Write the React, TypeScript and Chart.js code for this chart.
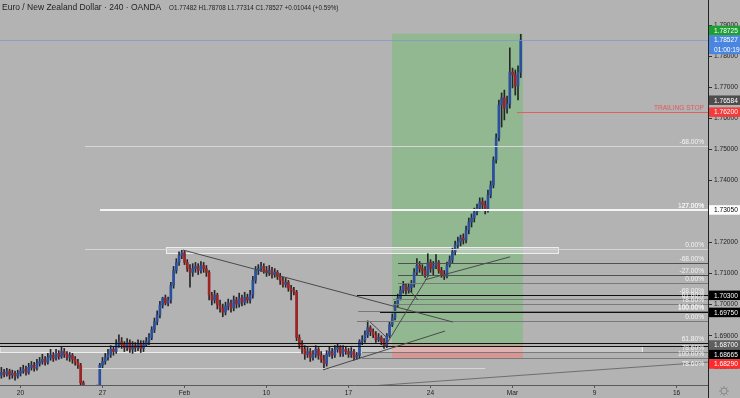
import React, { useEffect, useRef } from 'react';
import { Chart, registerables } from 'chart.js';

Chart.register(...registerables);

const FONT = "'Liberation Sans', Arial, sans-serif";
const BG = '#b3b3b3';

// ---- time slots (4h candles, 30 per week) ----
const FIRST_IDX = -7;
const LAST_IDX = 251;
const slotLabels = Array.from({ length: LAST_IDX - FIRST_IDX + 1 }, (_, k) => String(FIRST_IDX + k));

const tickIdx = [0, 30, 60, 90, 120, 150, 180, 210, 240];
const tickText = ['20', '27', 'Feb', '10', '17', '24', 'Mar', '9', '16'];

// ---- OHLC data (index -7 .. 183) ----
const firstOpen = 1.6773;
const closes = [
  1.6782, 1.6776, 1.6786, 1.6773, 1.6779, 1.677, 1.6779,
  1.6786, 1.6792, 1.6782, 1.6798, 1.6805, 1.6795, 1.6811, 1.6817, 1.6824, 1.6814,
  1.683, 1.6837, 1.6827, 1.6843, 1.6833, 1.6849, 1.684, 1.683, 1.6837, 1.6824,
  1.6814, 1.6805, 1.6748, 1.6722, 1.6712, 1.6703, 1.6716, 1.6709, 1.6728, 1.6805,
  1.6817, 1.683, 1.684, 1.6856, 1.6849, 1.6871, 1.6881, 1.6871, 1.6862, 1.6878,
  1.6856, 1.6868, 1.6862, 1.6875, 1.6859, 1.6871, 1.6881, 1.6894, 1.6919, 1.6945,
  1.6967, 1.6999, 1.7021, 1.7005, 1.7015, 1.7062, 1.711, 1.7136, 1.7158, 1.7167,
  1.7136, 1.7116, 1.7104, 1.7116, 1.7123, 1.711, 1.7126, 1.7116, 1.7104, 1.7031,
  1.7015, 1.7031, 1.6999, 1.6989, 1.6976, 1.6996, 1.7005, 1.6989, 1.7015, 1.7002,
  1.7021, 1.7008, 1.7024, 1.7015, 1.7031, 1.7078, 1.711, 1.7116, 1.7123, 1.711,
  1.7104, 1.711, 1.7097, 1.7104, 1.7091, 1.7078, 1.7065, 1.7072, 1.7053, 1.7046,
  1.704, 1.6894, 1.6871, 1.6856, 1.684, 1.6849, 1.683, 1.684, 1.6856, 1.6837,
  1.6824, 1.6811, 1.684, 1.6849, 1.6837, 1.6856, 1.6862, 1.6843, 1.6856, 1.6849,
  1.684, 1.6849, 1.683, 1.6837, 1.6881, 1.6887, 1.6903, 1.6926, 1.6913, 1.6903,
  1.6887, 1.6894, 1.6881, 1.6868, 1.69, 1.6935, 1.6957, 1.6999, 1.7021, 1.7046,
  1.7062, 1.7046, 1.7056, 1.7065, 1.7104, 1.7126, 1.7116, 1.711, 1.7097, 1.7136,
  1.7116, 1.7126, 1.7136, 1.711, 1.7097, 1.7091, 1.7128, 1.7144, 1.717, 1.7192,
  1.7202, 1.7215, 1.7208, 1.724, 1.7266, 1.7279, 1.7298, 1.7311, 1.7331, 1.7321,
  1.7305, 1.7353, 1.7385, 1.7466, 1.7537, 1.7643, 1.7666, 1.7633, 1.7646, 1.7749,
  1.774, 1.7704, 1.77482, 1.78527,
];
const highs = [
  1.6798, 1.6792, 1.6795, 1.6792, 1.6789, 1.6786, 1.6789,
  1.6798, 1.6805, 1.6802, 1.6811, 1.6817, 1.6814, 1.6824, 1.683, 1.684, 1.6833,
  1.6843, 1.6856, 1.6846, 1.6856, 1.6852, 1.6865, 1.6859, 1.6849, 1.6846, 1.6843,
  1.6833, 1.6824, 1.6811, 1.6754, 1.6732, 1.6722, 1.6728, 1.6725, 1.6741, 1.6811,
  1.683, 1.6843, 1.6856, 1.6868, 1.6865, 1.6887, 1.6903, 1.6894, 1.6881, 1.6891,
  1.6887, 1.6881, 1.6878, 1.6887, 1.6884, 1.6884, 1.6894, 1.6907, 1.6929, 1.6957,
  1.698, 1.7011, 1.7024, 1.7031, 1.7024, 1.7072, 1.7123, 1.7148, 1.717, 1.7177,
  1.7174, 1.7145, 1.7129, 1.7132, 1.7136, 1.7132, 1.7139, 1.7136, 1.7126, 1.711,
  1.704, 1.7046, 1.7037, 1.7015, 1.7002, 1.7008, 1.7018, 1.7015, 1.7028, 1.7024,
  1.7037, 1.7031, 1.704, 1.7034, 1.7046, 1.7091, 1.7123, 1.7129, 1.7136, 1.7132,
  1.7123, 1.7126, 1.712, 1.7116, 1.711, 1.7101, 1.7088, 1.7085, 1.7078, 1.7062,
  1.7056, 1.7046, 1.6903, 1.6884, 1.6868, 1.6862, 1.6859, 1.6852, 1.6868, 1.6862,
  1.6849, 1.6837, 1.6852, 1.6865, 1.6859, 1.6868, 1.6875, 1.6868, 1.6868, 1.6865,
  1.6859, 1.6862, 1.6856, 1.6846, 1.6887, 1.69, 1.6916, 1.6948, 1.6932, 1.6922,
  1.6913, 1.6907, 1.69, 1.6891, 1.6907, 1.6945, 1.697, 1.7011, 1.7034, 1.7059,
  1.7075, 1.7069, 1.7069, 1.7078, 1.7116, 1.7148, 1.7139, 1.7129, 1.7123, 1.7164,
  1.7145, 1.7139, 1.7161, 1.7142, 1.712, 1.711, 1.7137, 1.7157, 1.7182, 1.7205,
  1.7218, 1.7224, 1.7228, 1.7253, 1.7279, 1.7292, 1.7311, 1.7324, 1.7344, 1.7344,
  1.7334, 1.7369, 1.7398, 1.7476, 1.755, 1.7659, 1.7682, 1.7691, 1.7672, 1.7827,
  1.7762, 1.7756, 1.7769, 1.78708,
];
const lows = [
  1.6763, 1.6767, 1.677, 1.676, 1.6763, 1.6757, 1.6763,
  1.677, 1.6779, 1.6773, 1.6776, 1.6789, 1.6786, 1.6789, 1.6802, 1.6808, 1.6805,
  1.6808, 1.6821, 1.6817, 1.6821, 1.6824, 1.6827, 1.683, 1.6821, 1.6817, 1.6811,
  1.6805, 1.6795, 1.6738, 1.6709, 1.67, 1.669, 1.6694, 1.67, 1.6703, 1.6722,
  1.6795, 1.6808, 1.6821, 1.683, 1.6837, 1.6843, 1.6862, 1.6859, 1.6849, 1.6852,
  1.6846, 1.6843, 1.6849, 1.6852, 1.6846, 1.6849, 1.6865, 1.6871, 1.6887, 1.691,
  1.6935, 1.6957, 1.6989, 1.6999, 1.6996, 1.7005, 1.7053, 1.7101, 1.7126, 1.7148,
  1.7129, 1.7107, 1.7056, 1.7091, 1.7104, 1.7097, 1.7101, 1.7104, 1.7091, 1.7015,
  1.6999, 1.7005, 1.6986, 1.6976, 1.6961, 1.6967, 1.6983, 1.6976, 1.698, 1.6989,
  1.6992, 1.6996, 1.6999, 1.7005, 1.7005, 1.7021, 1.7069, 1.7097, 1.7107, 1.7101,
  1.7091, 1.7094, 1.7085, 1.7088, 1.7081, 1.7065, 1.7056, 1.7056, 1.7043, 1.7015,
  1.7031, 1.6884, 1.6859, 1.6843, 1.6824, 1.683, 1.6817, 1.6821, 1.683, 1.6824,
  1.6814, 1.6792, 1.6802, 1.6833, 1.6827, 1.683, 1.6846, 1.6833, 1.6833, 1.684,
  1.683, 1.683, 1.6821, 1.6824, 1.6827, 1.6871, 1.6878, 1.6894, 1.69, 1.6894,
  1.6878, 1.6881, 1.6871, 1.6859, 1.6862, 1.6894, 1.6929, 1.6951, 1.6992, 1.7015,
  1.7037, 1.7034, 1.7037, 1.704, 1.7056, 1.7094, 1.7104, 1.7097, 1.7088, 1.7091,
  1.7104, 1.7094, 1.7116, 1.7101, 1.7088, 1.7081, 1.7086, 1.7121, 1.7134, 1.716,
  1.7182, 1.7189, 1.7195, 1.7199, 1.7228, 1.725, 1.7266, 1.7289, 1.7302, 1.7305,
  1.7292, 1.7298, 1.7344, 1.7376, 1.7456, 1.7527, 1.7572, 1.7595, 1.7617, 1.7633,
  1.7698, 1.7675, 1.7659, 1.77314,
];
const opens = closes.map((c, i) => (i === 0 ? firstOpen : closes[i - 1]));

// ---- price axis range ----
const yMin = 1.67412;
const yMax = 1.79812;

// ---- long position tool ----
const positionFrom = 135.9;
const positionTo = 183.8;
const targetPrice = 1.78725;
const entryPrice = 1.687;
const stopPrice = 1.6829;

// ---- horizontal levels ----
const levelPrice = [1.78527, 1.762, 1.7511, 1.7305, 1.7179, 1.7134, 1.7096, 1.707, 1.703, 1.7018, 1.7002, 1.698, 1.6975, 1.6947, 1.6876, 1.68665, 1.6848, 1.6829, 1.6796];
const levelFrom = [-7.5, 181.6, 23.6, 29.1, 23.6, 138.1, 138.1, 138.1, 123.1, 136.3, 136.3, 123.5, 131.5, 123.1, -7.5, -7.5, 124.9, 124.9, 22.9];
const levelTo = [251.5, 251.5, 251.5, 251.5, 251.5, 251.5, 251.5, 251.5, 251.5, 251.5, 251.5, 251.5, 251.5, 251.5, 251.5, 251.5, 251.5, 251.5, 170];
const levelText = ['', 'TRAILING STOP', '-68.00%', '-27.00%|127.00%', '0.00%', '-68.00%', '-27.00%', '0.00%', '-68.00%', '61.80%', '78.60%', '100.00%', '100.00%', '0.00%', '61.80%', '', '78.60%', '100.00%', ''];
const levelKind = ['price', 'trail', 'light', 'white', 'light', 'dark', 'dark', 'mid', 'black', 'mid', 'mid', 'mid', 'black', 'mid', 'black', 'black', 'mid', 'mid', 'light'];

// ---- trend lines ----
const trendFromIdx = [59.4, 110.7, 127.9, 133.0, 148.0, 139.9, 127.9];
const trendFromPrice = [1.7176, 1.679, 1.6944, 1.686, 1.708, 1.707, 1.6738];
const trendToIdx = [158.2, 155.3, 134.1, 149.1, 179.1, 145.4, 251.5];
const trendToPrice = [1.6944, 1.6915, 1.6893, 1.7092, 1.7154, 1.7015, 1.6815];
const trendText = ['', '', '', '', '', '', '78.60%'];

// ---- rectangles ----
const boxFromIdx = [53.4, -7.5];
const boxToIdx = [196.8, 227.5];
const boxTop = [1.7186, 1.6867];
const boxBottom = [1.7166, 1.6849];

// ---- price axis labels ----
const axisPrices = [1.78527, 1.78725, 1.76584, 1.762, 1.7305, 1.703, 1.6975, 1.687, 1.68665, 1.6829];
const axisBg = ['#4a86e0', '#1f9e35', '#4d4d4d', '#f23b3b', '#ffffff', '#000000', '#000000', '#5e5e5e', '#000000', '#ff2b2b'];
const axisFg = ['#ffffff', '#ffffff', '#ffffff', '#ffffff', '#000000', '#ffffff', '#ffffff', '#ffffff', '#ffffff', '#ffffff'];
const timerText = '01:00:19';

const titleText = 'Euro / New Zealand Dollar · 240 · OANDA';
const ohlcText = 'O1.77482 H1.78708 L1.77314 C1.78527 +0.01044 (+0.59%)';

const UP = '#2a4f9e';
const DOWN = '#9e2424';
const WICK = '#262626';

const KIND_STYLE: any = {
  price: { color: 'rgba(130,150,200,0.75)', width: 1 },
  trail: { color: '#e06060', width: 1 },
  light: { color: '#d6d6d6', width: 1 },
  white: { color: '#f4f4f4', width: 2 },
  dark: { color: '#505050', width: 1 },
  mid: { color: '#7a7a7a', width: 1 },
  black: { color: '#111111', width: 1 },
};

const overlayPlugin = {
  id: 'tvOverlay',
  beforeDraw(chart: any) {
    const { ctx, width, height } = chart;
    ctx.save();
    ctx.fillStyle = BG;
    ctx.fillRect(0, 0, width, height);
    ctx.restore();
  },
  beforeDatasetsDraw(chart: any) {
    const { ctx, chartArea: a } = chart;
    const xs = chart.scales.x;
    const ys = chart.scales.y;
    const X = (i: number) => xs.getPixelForValue(i - FIRST_IDX);
    const Y = (p: number) => ys.getPixelForValue(p);
    ctx.save();
    ctx.beginPath();
    ctx.rect(a.left, a.top, a.right - a.left, a.bottom - a.top);
    ctx.clip();
    // profit / loss zones
    const x0 = X(positionFrom), x1 = X(positionTo);
    ctx.fillStyle = '#92b892';
    ctx.fillRect(x0, Y(targetPrice), x1 - x0, Y(entryPrice) - Y(targetPrice));
    ctx.fillStyle = '#d99494';
    ctx.fillRect(x0, Y(entryPrice), x1 - x0, Y(stopPrice) - Y(entryPrice));
    // rectangles (semi transparent, drawn over zones)
    for (let k = 0; k < boxFromIdx.length; k++) {
      const bx0 = X(boxFromIdx[k]), bx1 = X(boxToIdx[k]);
      const by0 = Math.round(Y(boxTop[k])) + 0.5, by1 = Math.round(Y(boxBottom[k])) + 0.5;
      ctx.fillStyle = 'rgba(235,235,235,0.35)';
      ctx.fillRect(bx0, by0, bx1 - bx0, by1 - by0);
      ctx.strokeStyle = '#eeeeee';
      ctx.lineWidth = 1;
      ctx.strokeRect(bx0, by0, bx1 - bx0, by1 - by0);
    }
    ctx.restore();
  },
  afterDatasetsDraw(chart: any) {
    const { ctx, chartArea: a } = chart;
    const xs = chart.scales.x;
    const ys = chart.scales.y;
    const X = (i: number) => xs.getPixelForValue(i - FIRST_IDX);
    const Y = (p: number) => ys.getPixelForValue(p);
    ctx.save();
    ctx.beginPath();
    ctx.rect(a.left, a.top, a.right - a.left, a.bottom - a.top);
    ctx.clip();
    // horizontal levels
    for (let k = 0; k < levelPrice.length; k++) {
      const st = KIND_STYLE[levelKind[k]];
      const y = st.width % 2 === 1 ? Math.round(Y(levelPrice[k])) + 0.5 : Math.round(Y(levelPrice[k]));
      ctx.strokeStyle = st.color;
      ctx.lineWidth = st.width;
      ctx.beginPath();
      ctx.moveTo(X(levelFrom[k]), y);
      ctx.lineTo(Math.min(X(levelTo[k]), a.right), y);
      ctx.stroke();
    }
    // trend lines
    for (let k = 0; k < trendFromIdx.length; k++) {
      ctx.strokeStyle = k === 6 ? '#6e6e6e' : '#4a4a4a';
      ctx.lineWidth = 1;
      ctx.beginPath();
      ctx.moveTo(X(trendFromIdx[k]), Y(trendFromPrice[k]));
      ctx.lineTo(X(trendToIdx[k]), Y(trendToPrice[k]));
      ctx.stroke();
    }
    // labels
    ctx.font = `6.6px ${FONT}`;
    ctx.textAlign = 'right';
    ctx.textBaseline = 'bottom';
    for (let k = 0; k < levelPrice.length; k++) {
      if (!levelText[k]) continue;
      ctx.fillStyle = levelKind[k] === 'trail' ? '#e05a5a' : '#f4f4f4';
      const y = Math.round(Y(levelPrice[k])) - 1;
      for (const t of levelText[k].split('|')) ctx.fillText(t, a.right - 4, y);
    }
    ctx.textBaseline = 'middle';
    for (let k = 0; k < trendFromIdx.length; k++) {
      if (!trendText[k]) continue;
      ctx.fillStyle = '#f4f4f4';
      ctx.fillText(trendText[k], a.right - 4, Y(trendToPrice[k]) + 2.5);
    }
    ctx.restore();
  },
  afterDraw(chart: any) {
    const { ctx, chartArea: a, width, height } = chart;
    const ys = chart.scales.y;
    ctx.save();
    // axis line extension
    ctx.strokeStyle = '#222';
    ctx.lineWidth = 1;
    ctx.beginPath();
    ctx.moveTo(Math.round(a.right) + 0.5, a.bottom);
    ctx.lineTo(Math.round(a.right) + 0.5, height);
    ctx.stroke();

    // price axis labels with collision handling
    const H = 9.5;
    const placed: any[] = [];
    for (let k = 0; k < axisPrices.length; k++) {
      const py = ys.getPixelForValue(axisPrices[k]);
      const h = k === 0 ? 2 * H : H;
      let c = k === 0 ? py + H / 2 : py;
      let guard = 0;
      let moved = true;
      while (moved && guard++ < 30) {
        moved = false;
        for (const p of placed) {
          if (Math.abs(c - p.c) < (h + p.h) / 2 - 0.01) {
            c = py <= p.py ? p.c - (h + p.h) / 2 : p.c + (h + p.h) / 2;
            moved = true;
          }
        }
      }
      placed.push({ c, h, py, k });
    }
    ctx.font = `6.6px ${FONT}`;
    ctx.textAlign = 'left';
    ctx.textBaseline = 'middle';
    const bx = Math.round(a.right) + 1;
    for (const p of placed) {
      const top = p.c - p.h / 2;
      ctx.fillStyle = axisBg[p.k];
      ctx.fillRect(bx, top, width - bx, p.h);
      ctx.fillStyle = axisFg[p.k];
      ctx.fillText(axisPrices[p.k].toFixed(5), bx + 5, top + H / 2 + 0.5);
      if (p.k === 0) ctx.fillText(timerText, bx + 5, top + H * 1.5 + 0.5);
    }

    // title
    ctx.fillStyle = '#1e1e1e';
    ctx.font = `8.5px ${FONT}`;
    ctx.textBaseline = 'middle';
    ctx.fillText(titleText, 2, 7.5);
    ctx.font = `6.3px ${FONT}`;
    ctx.fillText(ohlcText, 169, 8);

    // settings gear
    const gx = 724, gy = 391;
    ctx.strokeStyle = '#8a8a8a';
    ctx.lineWidth = 1;
    ctx.beginPath();
    ctx.arc(gx, gy, 3, 0, Math.PI * 2);
    ctx.stroke();
    for (let t = 0; t < 8; t++) {
      const ang = (t * Math.PI) / 4;
      ctx.beginPath();
      ctx.moveTo(gx + Math.cos(ang) * 3, gy + Math.sin(ang) * 3);
      ctx.lineTo(gx + Math.cos(ang) * 5, gy + Math.sin(ang) * 5);
      ctx.stroke();
    }
    ctx.restore();
  },
};

export default function App() {
  const ref = useRef<HTMLCanvasElement>(null);
  useEffect(() => {
    document.body.style.margin = '0';
    document.body.style.background = BG;
    const bodyData = closes.map((c, i) => [opens[i], c]);
    const wickData = closes.map((_, i) => [lows[i], highs[i]]);
    const bodyColors = closes.map((c, i) => (c >= opens[i] ? UP : DOWN));
    const chart = new Chart(ref.current as HTMLCanvasElement, {
      type: 'bar',
      data: {
        labels: slotLabels,
        datasets: [
          {
            data: bodyData as any,
            backgroundColor: bodyColors,
            borderWidth: 0,
            barThickness: 2,
            grouped: false,
            minBarLength: 1,
          } as any,
          {
            data: wickData as any,
            backgroundColor: WICK,
            borderWidth: 0,
            barThickness: 1,
            grouped: false,
          } as any,
        ],
      },
      options: {
        responsive: false,
        animation: false,
        devicePixelRatio: 1,
        layout: { padding: 0 },
        plugins: { legend: { display: false }, tooltip: { enabled: false }, title: { display: false } },
        scales: {
          x: {
            type: 'category',
            offset: true,
            grid: {
              display: true,
              drawOnChartArea: false,
              drawTicks: true,
              tickLength: 3,
              offset: false,
              color: (c: any) => (tickIdx.includes(c.index + FIRST_IDX) ? '#555555' : 'rgba(0,0,0,0)'),
            },
            border: { display: true, color: '#5a5a5a', width: 1 },
            ticks: {
              autoSkip: false,
              maxRotation: 0,
              minRotation: 0,
              padding: 1,
              color: '#222222',
              font: { family: FONT, size: 6.6 },
              callback: (_v: any, index: number) => {
                const k = tickIdx.indexOf(index + FIRST_IDX);
                return k >= 0 ? tickText[k] : '';
              },
            },
            afterFit: (s: any) => {
              s.height = 13;
              s.paddingLeft = 0;
              s.paddingRight = 0;
            },
          } as any,
          y: {
            position: 'right',
            min: yMin,
            max: yMax,
            grid: { drawOnChartArea: false, drawTicks: true, tickLength: 4, color: '#333333' },
            border: { display: true, color: '#222222', width: 1 },
            ticks: {
              stepSize: 0.01,
              includeBounds: false,
              padding: 2,
              color: '#222222',
              font: { family: FONT, size: 6.6 },
              callback: (v: any) => Number(v).toFixed(5),
            },
            afterFit: (s: any) => {
              s.width = 32;
              s.paddingTop = 0;
              s.paddingBottom = 0;
            },
          } as any,
        },
      },
      plugins: [overlayPlugin],
    });
    return () => chart.destroy();
  }, []);
  return <canvas ref={ref} width={740} height={398} style={{ display: 'block', width: 740, height: 398 }} />;
}
